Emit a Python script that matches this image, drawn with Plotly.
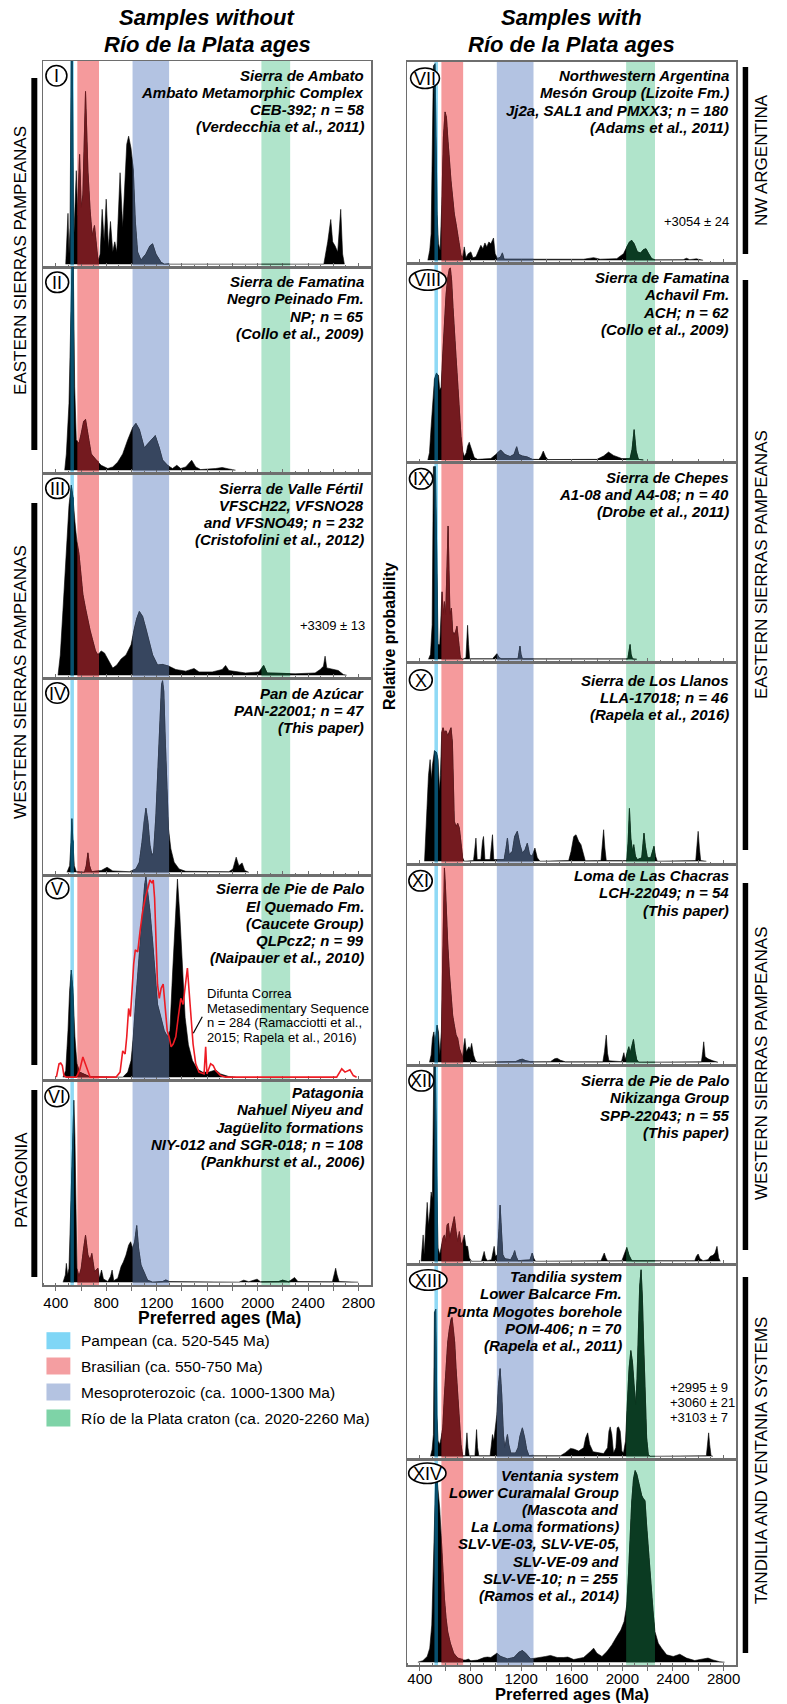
import plotly.graph_objects as go

W, H = 787, 1704
FONT = "Liberation Sans, Arial, Helvetica, sans-serif"

# ---------------- data ----------------
band_names = ["Pampean (ca. 520-545 Ma)", "Brasilian (ca. 550-750 Ma)",
              "Mesoproterozoic (ca. 1000-1300 Ma)", "Río de la Plata craton (ca. 2020-2260 Ma)"]
band_lo = [515, 570, 1008, 2030]
band_hi = [543, 742, 1298, 2258]

tick_values = [400, 600, 800, 1000, 1200, 1400, 1600, 1800, 2000, 2200, 2400, 2600, 2800]
tick_labels = ["400", "", "800", "", "1200", "", "1600", "", "2000", "", "2400", "", "2800"]

# (age in Ma, relative probability)
panel_I = [(478,0),(488,0.11),(496,0.25),(504,0.05),(512,0.18),(522,1.02),(530,1.02),(541,0.11),(551,0.29),
           (562,0.46),(572,0.24),(588,0.54),(601,0.28),(614,0.34),(635,0.85),(654,0.46),(672,0.26),(688,0.14),
           (706,0.19),(720,0.11),(735,0.01),(751,0.05),(767,0.27),(783,0.11),(799,0.32),(817,0.08),(833,0.21),
           (851,0.06),(867,0.11),(883,0.06),(909,0.45),(930,0.18),(943,0.34),(962,0.59),(977,0.63),(996,0.57),
           (1014,0.46),(1030,0.21),(1048,0.06),(1075,0.02),(1114,0.05),(1146,0.09),(1167,0.10),(1193,0.05),
           (1233,0.01),(1259,0),(2525,0),(2535,0.03),(2556,0.11),(2580,0.22),(2595,0.11),(2614,0.09),
           (2635,0.06),(2659,0.27),(2674,0.05),(2688,0)]
panel_II = [(470,0),(483,0.08),(504,0.33),(520,0.9),(528,1.02),(538,1.02),(549,0.41),(562,0.15),(583,0.13),
            (601,0.18),(620,0.24),(635,0.25),(654,0.18),(680,0.08),(720,0.05),(759,0.024),(812,0.008),
            (851,0.016),(891,0.04),(930,0.08),(970,0.15),(1009,0.21),(1035,0.23),(1062,0.2),(1101,0.11),
            (1141,0.14),(1188,0.17),(1220,0.11),(1246,0.05),(1285,0.024),(1325,0.008),(1359,0.024),
            (1390,0.008),(1430,0.016),(1477,0.049),(1509,0.016),(1548,0.003),(1667,0.008),(1719,0.013),
            (1772,0.006),(1825,0)]
panel_III = [(417,0),(435,0.1),(456,0.32),(483,0.6),(504,0.84),(522,0.94),(535,0.88),(551,0.76),(567,0.66),
             (583,0.6),(601,0.5),(614,0.4),(635,0.33),(654,0.27),(672,0.22),(693,0.17),(714,0.12),(733,0.1),
             (759,0.12),(785,0.11),(812,0.08),(851,0.035),(883,0.05),(917,0.08),(956,0.1),(996,0.15),
             (1022,0.23),(1041,0.28),(1062,0.315),(1088,0.29),(1114,0.23),(1141,0.17),(1167,0.1),(1206,0.05),
             (1246,0.053),(1298,0.044),(1351,0.028),(1430,0.02),(1496,0.033),(1535,0.016),(1640,0.016),
             (1719,0.028),(1746,0.048),(1772,0.023),(1904,0.011),(2009,0.016),(2048,0.048),(2075,0.011),
             (2298,0.007),(2456,0.011),(2496,0.028),(2522,0.044),(2535,0.094),(2548,0.036),(2574,0.033),
             (2601,0.028),(2640,0.023),(2680,0.003),(2706,0)]
panel_IV = [(488,0),(509,0.034),(520,0.155),(527,0.276),(535,0.155),(546,0.034),(562,0.003),(627,0),
            (641,0.034),(654,0.1),(667,0.034),(683,0.003),(759,0.009),(806,0.026),(851,0.007),(983,0.003),
            (1035,0.017),(1062,0.052),(1083,0.155),(1098,0.26),(1114,0.33),(1130,0.26),(1146,0.14),
            (1162,0.086),(1175,0.103),(1193,0.29),(1209,0.53),(1225,0.81),(1238,0.966),(1246,0.986),
            (1256,0.93),(1267,0.69),(1280,0.43),(1293,0.224),(1312,0.12),(1338,0.052),(1377,0.017),
            (1430,0.005),(1772,0.003),(1804,0.017),(1830,0.078),(1851,0.034),(1877,0.048),(1898,0.009),(1930,0)]
panel_V = [(456,0),(478,0.033),(496,0.23),(509,0.43),(522,0.53),(535,0.43),(551,0.2),(567,0.066),(588,0.025),
           (627,0.013),(667,0.003),(930,0),(970,0.025),(996,0.082),(1014,0.2),(1035,0.39),(1062,0.62),
           (1088,0.84),(1104,0.95),(1114,0.99),(1127,0.93),(1146,0.82),(1167,0.67),(1188,0.475),(1206,0.36),
           (1233,0.295),(1259,0.23),(1285,0.2),(1304,0.23),(1325,0.51),(1346,0.8),(1364,0.98),(1383,0.8),
           (1404,0.51),(1425,0.295),(1451,0.16),(1483,0.082),(1522,0.04),(1562,0.025),(1614,0.025),
           (1667,0.036),(1706,0.016),(1772,0.003),(1825,0)]
difunta_correa = [(404,0),(425,0.066),(438,0.07),(451,0.057),(464,0.008),(483,0),(562,0),(588,0.033),(614,0.1),
                  (635,0.066),(654,0.025),(672,0),(877,0),(909,0.025),(930,0.13),(949,0.115),(962,0.2),
                  (977,0.34),(991,0.3),(1004,0.43),(1017,0.56),(1030,0.63),(1049,0.62),(1067,0.72),(1088,0.82),
                  (1109,0.885),(1130,0.93),(1146,0.975),(1162,0.96),(1172,0.975),(1183,0.885),(1193,0.655),
                  (1206,0.46),(1220,0.39),(1235,0.44),(1251,0.46),(1267,0.36),(1283,0.23),(1298,0.2),
                  (1314,0.15),(1330,0.164),(1351,0.2),(1370,0.295),(1391,0.39),(1409,0.36),(1430,0.46),
                  (1443,0.54),(1456,0.43),(1472,0.31),(1488,0.164),(1509,0.066),(1535,0.025),(1575,0.016),
                  (1588,0.15),(1598,0.016),(1627,0.066),(1648,0.057),(1667,0.033),(1706,0.008),(1746,0),
                  (2627,0),(2667,0.041),(2693,0.025),(2732,0.036),(2759,0.008),(2785,0)]
panel_VI = [(457,0),(475,0.036),(483,0.093),(493,0.036),(504,0.069),(514,0.31),(525,0.56),(535,0.8),(543,0.9),
            (551,0.72),(559,0.31),(567,0.069),(583,0.028),(601,0.069),(620,0.167),(635,0.232),(654,0.134),
            (672,0.11),(685,0.142),(706,0.052),(733,0.069),(746,0.02),(762,0.06),(777,0.016),(812,0.003),
            (833,0.028),(846,0.06),(859,0.007),(891,0.02),(917,0.077),(935,0.1),(956,0.134),(977,0.183),
            (993,0.2),(1009,0.167),(1025,0.2),(1041,0.28),(1056,0.167),(1075,0.085),(1101,0.044),(1127,0.01),
            (1167,0),(1246,0.003),(1272,0.011),(1298,0.003),(1851,0),(1890,0.01),(1930,0.002),(1996,0.015),
            (2022,0.002),(2167,0.003),(2198,0.01),(2246,0.002),(2293,0.023),(2319,0.003),(2593,0.002),
            (2609,0.044),(2619,0.069),(2630,0.036),(2646,0.003),(2798,0)]
panel_VII = [(463,0),(478,0.05),(489,0.133),(499,0.53),(507,0.98),(520,0.99),(528,0.62),(536,0.23),(547,0.083),
             (560,0.05),(573,0.28),(586,0.62),(599,0.747),(610,0.72),(620,0.62),(633,0.5),(646,0.4),
             (659,0.317),(672,0.233),(686,0.183),(699,0.133),(712,0.067),(725,0.025),(738,0.013),(751,0.067),
             (764,0.013),(782,0.033),(803,0.042),(819,0.013),(843,0.017),(869,0.05),(882,0.075),(898,0.058),
             (914,0.087),(929,0.067),(945,0.092),(961,0.083),(982,0.112),(995,0.033),(1013,0.008),
             (1039,0.017),(1052,0.037),(1065,0.005),(1406,0.003),(1694,0.005),(1773,0.013),(1825,0.005),
             (1956,0.008),(2009,0.033),(2035,0.067),(2056,0.092),(2074,0.1),(2093,0.083),(2119,0.042),
             (2145,0.037),(2166,0.053),(2187,0.058),(2208,0.033),(2232,0.008),(2258,0.002),(2481,0.003),
             (2507,0.01),(2533,0.003),(2585,0.007),(2612,0.002),(2638,0)]
panel_VIII = [(463,0),(476,0.037),(489,0.17),(502,0.29),(515,0.41),(531,0.44),(547,0.43),(557,0.355),
              (568,0.37),(581,0.54),(594,0.707),(607,0.84),(620,0.925),(633,0.97),(641,0.975),(651,0.91),
              (662,0.774),(672,0.64),(686,0.52),(699,0.39),(712,0.24),(725,0.12),(738,0.045),(751,0.017),
              (767,0.037),(777,0.07),(790,0.09),(809,0.054),(830,0.012),(856,0.003),(961,0.007),(1000,0.028),
              (1039,0.05),(1071,0.028),(1113,0.017),(1144,0.028),(1165,0.067),(1181,0.028),(1210,0.02),
              (1249,0.015),(1288,0.003),(1341,0.003),(1359,0.02),(1375,0.045),(1393,0.017),(1411,0.002),
              (1799,0.003),(1852,0.02),(1891,0.04),(1930,0.023),(1996,0.007),(2061,0.007),(2077,0.054),
              (2093,0.154),(2109,0.045),(2127,0.003),(2166,0)]
panel_IX = [(468,0),(484,0.025),(497,0.176),(507,0.98),(523,0.98),(534,0.343),(544,0.075),(557,0.075),
            (568,0.31),(575,0.343),(586,0.226),(594,0.293),(604,0.226),(615,0.477),(623,0.678),(630,0.46),
            (638,0.226),(649,0.26),(659,0.142),(670,0.126),(683,0.142),(693,0.168),(706,0.075),(720,0.008),
            (738,0),(764,0.008),(772,0.109),(777,0.173),(785,0.075),(793,0.003),(974,0.003),(992,0.017),
            (1008,0.028),(1026,0.008),(1045,0.002),(1176,0.003),(1183,0.034),(1191,0.067),(1199,0.025),
            (1210,0.002),(2043,0.002),(2053,0.034),(2061,0.075),(2069,0.025),(2080,0.002),(2114,0)]
panel_X = [(437,0),(452,0.18),(468,0.43),(481,0.51),(492,0.41),(499,0.48),(515,0.555),(531,0.547),(544,0.51),
           (555,0.35),(562,0.43),(573,0.647),(583,0.67),(594,0.647),(607,0.655),(620,0.63),(633,0.647),
           (646,0.67),(657,0.597),(665,0.35),(672,0.2),(686,0.174),(699,0.19),(712,0.166),(725,0.1),
           (738,0.017),(751,0),(824,0.003),(835,0.066),(843,0.116),(853,0.008),(882,0.008),(895,0.1),
           (903,0.124),(914,0.008),(955,0.008),(966,0.083),(974,0.133),(984,0.008),(1066,0.008),(1081,0.066),
           (1092,0.116),(1105,0.033),(1131,0.05),(1149,0.124),(1170,0.15),(1191,0.083),(1210,0.041),
           (1231,0.058),(1249,0.09),(1267,0.033),(1288,0.025),(1309,0.066),(1328,0.017),(1349,0),
           (1576,0.003),(1595,0.05),(1616,0.124),(1634,0.133),(1655,0.1),(1673,0.083),(1694,0.025),
           (1707,0.002),(1831,0.003),(1841,0.066),(1852,0.158),(1862,0.066),(1873,0.003),(2035,0.003),
           (2046,0.1),(2056,0.265),(2067,0.116),(2080,0.05),(2090,0.083),(2103,0.025),(2119,0.008),
           (2153,0.017),(2161,0.083),(2171,0.141),(2182,0.075),(2198,0.017),(2224,0.017),(2239,0.058),
           (2250,0.075),(2263,0.025),(2276,0),(2580,0.003),(2591,0.083),(2599,0.15),(2609,0.066),
           (2619,0.003),(2664,0)]
panel_XI = [(476,0),(489,0.037),(499,0.12),(510,0.153),(520,0.095),(536,0.187),(547,0.153),(557,0.037),
            (570,0.153),(581,0.6),(589,0.92),(594,0.98),(602,0.887),(610,0.737),(620,0.6),(633,0.453),
            (646,0.32),(659,0.237),(672,0.187),(686,0.137),(699,0.12),(712,0.07),(725,0.045),(738,0.02),
            (748,0.087),(756,0.12),(767,0.053),(777,0.07),(788,0.078),(798,0.062),(809,0.095),(824,0.037),
            (840,0.007),(856,0),(1157,0.003),(1191,0.013),(1210,0.015),(1236,0.008),(1275,0.002),
            (1432,0.003),(1464,0.017),(1485,0.02),(1511,0.01),(1550,0.002),(1846,0.002),(1859,0.053),
            (1873,0.137),(1883,0.045),(1894,0.007),(1993,0.003),(2004,0.037),(2012,0.048),(2022,0.012),
            (2035,0.037),(2051,0.078),(2061,0.045),(2074,0.087),(2088,0.115),(2101,0.053),(2114,0.012),
            (2129,0),(2625,0.002),(2635,0.053),(2643,0.103),(2654,0.028),(2677,0.017),(2716,0.007),(2756,0)]
panel_XII = [(410,0),(418,0.084),(426,0.134),(434,0.034),(444,0.151),(458,0.3),(468,0.185),(479,0.252),
             (489,0.353),(499,0.32),(510,0.99),(523,0.99),(534,0.353),(544,0.067),(557,0.034),(570,0.084),
             (583,0.118),(594,0.134),(604,0.1),(615,0.185),(625,0.193),(636,0.118),(646,0.151),(659,0.2),
             (672,0.227),(686,0.151),(699,0.1),(712,0.151),(725,0.084),(738,0.1),(751,0.134),(764,0.076),
             (777,0.076),(790,0.017),(809,0),(887,0),(898,0.025),(908,0.05),(919,0.017),(934,0.003),
             (966,0.008),(979,0.05),(987,0.076),(997,0.025),(1013,0.034),(1024,0.151),(1034,0.286),
             (1045,0.151),(1055,0.034),(1071,0.013),(1118,0.008),(1139,0.034),(1149,0.054),(1160,0.025),
             (1176,0.003),(1270,0.007),(1280,0.03),(1288,0.042),(1299,0.017),(1314,0),(1831,0.003),
             (1846,0.025),(1857,0.042),(1870,0.017),(1883,0.002),(1996,0.003),(2017,0.034),(2035,0.07),
             (2053,0.03),(2074,0.003),(2572,0.003),(2585,0.025),(2599,0.037),(2614,0.013),(2638,0.003),
             (2677,0.008),(2695,0.025),(2716,0.03),(2732,0.042),(2748,0.076),(2761,0.017),(2774,0)]
panel_XIII = [(484,0),(497,0.036),(507,0.113),(515,0.748),(526,0.765),(534,0.216),(544,0.079),(557,0.062),
              (568,0.096),(581,0.148),(594,0.319),(607,0.456),(620,0.593),(633,0.662),(646,0.714),(654,0.722),
              (665,0.662),(675,0.593),(686,0.456),(699,0.319),(712,0.182),(725,0.062),(738,0.003),(759,0.003),
              (767,0.079),(772,0.122),(780,0.045),(790,0.003),(835,0.003),(843,0.096),(848,0.139),(856,0.045),
              (866,0.003),(955,0.003),(966,0.079),(974,0.113),(984,0.079),(997,0.165),(1008,0.216),
              (1021,0.37),(1034,0.456),(1047,0.319),(1060,0.113),(1071,0.045),(1081,0.079),(1092,0.113),
              (1102,0.062),(1118,0.017),(1157,0.017),(1176,0.045),(1191,0.105),(1210,0.148),(1228,0.096),
              (1244,0.036),(1262,0.003),(1511,0.003),(1550,0.019),(1590,0.041),(1616,0.038),(1655,0.027),
              (1694,0.045),(1710,0.096),(1726,0.122),(1742,0.062),(1768,0.024),(1812,0.017),(1852,0.014),
              (1883,0.045),(1894,0.13),(1904,0.153),(1917,0.113),(1930,0.017),(1949,0.045),(1959,0.148),
              (1970,0.153),(1983,0.13),(1996,0.027),(2009,0.017),(2025,0.079),(2040,0.285),(2053,0.456),
              (2067,0.55),(2080,0.49),(2093,0.37),(2106,0.268),(2116,0.405),(2127,0.662),(2137,0.885),
              (2148,0.97),(2158,0.834),(2169,0.576),(2179,0.319),(2192,0.096),(2205,0.01),(2219,0),
              (2664,0.003),(2675,0.079),(2682,0.122),(2690,0.062),(2701,0.003),(2716,0)]
panel_XIV = [(384,0),(423,0.007),(458,0.028),(478,0.069),(494,0.183),(505,0.428),(515,0.755),(526,0.926),
             (536,0.902),(547,0.837),(557,0.755),(568,0.624),(581,0.46),(594,0.314),(607,0.216),(620,0.15),
             (641,0.093),(667,0.044),(699,0.02),(738,0.01),(764,0.011),(783,0.015),(803,0.007),(856,0.01),
             (908,0.023),(934,0.025),(961,0.023),(987,0.036),(1008,0.044),(1039,0.028),(1092,0.016),
             (1144,0.023),(1183,0.049),(1210,0.057),(1236,0.044),(1275,0.016),(1328,0.02),(1393,0.028),
             (1432,0.033),(1485,0.023),(1537,0.023),(1569,0.025),(1616,0.013),(1694,0.023),(1747,0.052),
             (1773,0.069),(1799,0.044),(1839,0.028),(1878,0.052),(1917,0.085),(1956,0.126),(1988,0.158),
             (2014,0.2),(2035,0.281),(2048,0.428),(2061,0.624),(2074,0.788),(2088,0.902),(2101,0.943),
             (2114,0.926),(2127,0.894),(2140,0.861),(2153,0.82),(2166,0.804),(2179,0.796),(2192,0.673),
             (2205,0.559),(2219,0.461),(2232,0.346),(2245,0.232),(2258,0.15),(2284,0.093),(2310,0.069),
             (2350,0.036),(2402,0.028),(2454,0.039),(2507,0.02),(2572,0.008),(2638,0.016),(2677,0.02),
             (2716,0.011),(2769,0.002),(2808,0)]

titles_left = ["Samples without", "Río de la Plata ages"]
titles_right = ["Samples with", "Río de la Plata ages"]
text_I = ["Sierra de Ambato", "Ambato Metamorphic Complex", "CEB-392; n = 58", "(Verdecchia et al., 2011)"]
text_II = ["Sierra de Famatina", "Negro Peinado Fm.", "NP; n = 65", "(Collo et al., 2009)"]
text_III = ["Sierra de Valle Fértil", "VFSCH22, VFSNO28", "and VFSNO49; n = 232", "(Cristofolini et al., 2012)"]
text_IV = ["Pan de Azúcar", "PAN-22001; n = 47", "(This paper)"]
text_V = ["Sierra de Pie de Palo", "El Quemado Fm.", "(Caucete Group)", "QLPcz2; n = 99", "(Naipauer et al., 2010)"]
text_VI = ["Patagonia", "Nahuel Niyeu and", "Jagüelito formations", "NIY-012 and SGR-018; n = 108",
           "(Pankhurst et al., 2006)"]
text_VII = ["Northwestern Argentina", "Mesón Group (Lizoite Fm.)", "Jj2a, SAL1 and PMXX3; n = 180",
            "(Adams et al., 2011)"]
text_VIII = ["Sierra de Famatina", "Achavil Fm.", "ACH; n = 62", "(Collo et al., 2009)"]
text_IX = ["Sierra de Chepes", "A1-08 and A4-08; n = 40", "(Drobe et al., 2011)"]
text_X = ["Sierra de Los Llanos", "LLA-17018; n = 46", "(Rapela et al., 2016)"]
text_XI = ["Loma de Las Chacras", "LCH-22049; n = 54", "(This paper)"]
text_XII = ["Sierra de Pie de Palo", "Nikizanga Group", "SPP-22043; n = 55", "(This paper)"]
text_XIII = ["Tandilia system", "Lower Balcarce Fm.", "Punta Mogotes borehole", "POM-406; n = 70",
             "(Rapela et al., 2011)"]
text_XIV = ["Ventania system", "Lower Curamalal Group", "(Mascota and", "La Loma formations)",
            "SLV-VE-03, SLV-VE-05,", "SLV-VE-09 and", "SLV-VE-10; n = 255", "(Ramos et al., 2014)"]
note_III = ["+3309 ± 13"]
note_VII = ["+3054 ± 24"]
note_XIII = ["+2995 ± 9", "+3060 ± 21", "+3103 ± 7"]
difunta_label = ["Difunta Correa", "Metasedimentary Sequence", "n = 284 (Ramacciotti et al.,",
                 "2015; Rapela et al., 2016)"]
side_labels_left = ["EASTERN SIERRAS PAMPEANAS", "WESTERN SIERRAS PAMPEANAS", "PATAGONIA"]
side_labels_right = ["NW ARGENTINA", "EASTERN SIERRAS PAMPEANAS", "WESTERN SIERRAS PAMPEANAS",
                     "TANDILIA AND VENTANIA SYSTEMS"]
x_title = "Preferred ages (Ma)"
y_title = "Relative probability"

# ---------------- styles / layout geometry ----------------
band_colors = ["#8fd9f5", "#f59a9c", "#b3c3e2", "#b0e4cb"]
legend_colors = ["#7fd6f6", "#f49ea1", "#b4c3e1", "#7ed3a7"]
fill_colors = ["#07506f", "#741a1f", "#37465f", "#0b3b22"]
BORDER = "#6e6e6e"

col_x = [(43.5, 373.0), (409.3, 740.0)]
edges = [[61, 267, 473, 678, 875, 1080, 1285],
         [61.7, 263, 462.7, 662, 864, 1065, 1264, 1459, 1665]]
X0, X1 = 300, 2900
YR = [-0.014, 1.0]

panels = [
    dict(num="I", col=0, row=0, data=panel_I, text=text_I, ty=75.0, tx=367, ecx=56.7, ecy=75.7, ew=21),
    dict(num="II", col=0, row=1, data=panel_II, text=text_II, ty=281.7, tx=367, ecx=57.5, ecy=282.3, ew=23),
    dict(num="III", col=0, row=2, data=panel_III, text=text_III, ty=488.3, tx=367, ecx=57.7, ecy=488.3, ew=23.5),
    dict(num="IV", col=0, row=3, data=panel_IV, text=text_IV, ty=693.3, tx=367, ecx=57.5, ecy=693.0, ew=23),
    dict(num="V", col=0, row=4, data=panel_V, text=text_V, ty=889.0, tx=367, ecx=57.7, ecy=888.5, ew=23),
    dict(num="VI", col=0, row=5, data=panel_VI, text=text_VI, ty=1092.7, tx=366.5, ecx=57.2, ecy=1096.5, ew=24),
    dict(num="VII", col=1, row=0, data=panel_VII, text=text_VII, ty=75.7, tx=734, ecx=427.2, ecy=78.3, ew=29),
    dict(num="VIII", col=1, row=1, data=panel_VIII, text=text_VIII, ty=277.7, tx=734, ecx=430.0, ecy=280.0, ew=37),
    dict(num="IX", col=1, row=2, data=panel_IX, text=text_IX, ty=477.3, tx=734, ecx=423.3, ecy=478.8, ew=23.5),
    dict(num="X", col=1, row=3, data=panel_X, text=text_X, ty=680.0, tx=734, ecx=423.0, ecy=680.0, ew=23),
    dict(num="XI", col=1, row=4, data=panel_XI, text=text_XI, ty=875.7, tx=734, ecx=422.7, ecy=880.8, ew=23.5),
    dict(num="XII", col=1, row=5, data=panel_XII, text=text_XII, ty=1080.7, tx=734, ecx=423.5, ecy=1080.8, ew=25),
    dict(num="XIII", col=1, row=6, data=panel_XIII, text=text_XIII, ty=1276.7, tx=626.5, ecx=430.5, ecy=1280.0, ew=37.5),
    dict(num="XIV", col=1, row=7, data=panel_XIV, text=text_XIV, ty=1475.0, tx=623, ecx=429.5, ecy=1473.3, ew=37.5),
]
LINE_GAP = 17.2


def xid(k):
    return "x" if k == 1 else f"x{k}"


def yid(k):
    return "y" if k == 1 else f"y{k}"


def xkey(k):
    return "xaxis" if k == 1 else f"xaxis{k}"


def ykey(k):
    return "yaxis" if k == 1 else f"yaxis{k}"


fig = go.Figure()
layout_axes = {}
shapes = []
annotations = []


def ann(text, x, y, size, xanchor="center", yanchor="middle", angle=0, color="black"):
    annotations.append(dict(text=text, x=x / W, y=1 - y / H, xref="paper", yref="paper", showarrow=False,
                            xanchor=xanchor, yanchor=yanchor, textangle=angle, borderpad=0,
                            font=dict(family=FONT, size=size, color=color)))


def rect(x0, y0, x1, y1, color, layer="above"):
    shapes.append(dict(type="rect", xref="paper", yref="paper", x0=x0 / W, x1=x1 / W,
                       y0=1 - y1 / H, y1=1 - y0 / H, fillcolor=color, line=dict(width=0), layer=layer))


scale = [(c[1] - c[0]) / (X1 - X0) for c in col_x]

# band-clip axes (one per band and column)
band_axis = {}
n_ax = 15
for c in range(2):
    for j in range(4):
        bx0 = col_x[c][0] + (band_lo[j] - X0) * scale[c]
        bx1 = col_x[c][0] + (band_hi[j] - X0) * scale[c]
        layout_axes[xkey(n_ax)] = dict(domain=[bx0 / W, bx1 / W], range=[band_lo[j], band_hi[j]],
                                       visible=False, anchor="free", position=0, fixedrange=True)
        band_axis[(c, j)] = n_ax
        n_ax += 1
red_axis = n_ax
layout_axes[xkey(red_axis)] = dict(domain=[col_x[0][0] / W, col_x[0][1] / W], range=[X0, X1],
                                   visible=False, anchor="free", position=0, fixedrange=True)

for k, p in enumerate(panels, 1):
    c, r = p["col"], p["row"]
    top, bot = edges[c][r], edges[c][r + 1]
    bottom_panel = (r + 2 == len(edges[c]))
    xa = dict(domain=[col_x[c][0] / W, col_x[c][1] / W], range=[X0, X1], anchor=yid(k),
              showline=True, mirror=True, linecolor=BORDER, linewidth=1.5, showgrid=False, zeroline=False,
              tickmode="array", tickvals=tick_values, ticklen=4, tickwidth=1, tickcolor=BORDER, fixedrange=True,
              minor=dict(ticks="inside", dtick=100, tick0=0, ticklen=2, tickcolor=BORDER, showgrid=False))
    if bottom_panel:
        xa.update(ticks="outside", ticktext=tick_labels, showticklabels=True,
                  tickfont=dict(family=FONT, size=15, color="black"),
                  ticklabelstandoff=(-1 if c == 0 else -5))
    else:
        xa.update(ticks="inside", showticklabels=False)
    layout_axes[xkey(k)] = xa
    layout_axes[ykey(k)] = dict(domain=[1 - bot / H, 1 - top / H], range=YR, anchor=xid(k),
                                showline=True, mirror=True, linecolor=BORDER, linewidth=1.5,
                                showgrid=False, zeroline=False, ticks="", showticklabels=False,
                                fixedrange=True)
    # age bands
    for j in range(4):
        shapes.append(dict(type="rect", xref=xid(k), yref=f"{yid(k)} domain", x0=band_lo[j], x1=band_hi[j],
                           y0=0, y1=1, fillcolor=band_colors[j], line=dict(width=0), layer="below"))
    ages = [q[0] for q in p["data"]]
    dens = [q[1] for q in p["data"]]
    fig.add_trace(go.Scatter(x=ages, y=dens, mode="lines", fill="tozeroy", fillcolor="black",
                             line=dict(color="black", width=0.6), xaxis=xid(k), yaxis=yid(k),
                             hoverinfo="skip", showlegend=False))
    for j in range(4):
        fig.add_trace(go.Scatter(x=ages, y=dens, mode="lines", fill="tozeroy", fillcolor=fill_colors[j],
                                 line=dict(color=fill_colors[j], width=0.6),
                                 xaxis=xid(band_axis[(c, j)]), yaxis=yid(k),
                                 hoverinfo="skip", showlegend=False))
    # panel text
    for i, line in enumerate(p["text"]):
        ann(f"<b><i>{line}</i></b>", p["tx"], p["ty"] + i * LINE_GAP, 15, xanchor="right")
    # numeral ellipse
    eh = 20.5
    shapes.append(dict(type="circle", xref="paper", yref="paper",
                       x0=(p["ecx"] - p["ew"] / 2) / W, x1=(p["ecx"] + p["ew"] / 2) / W,
                       y0=1 - (p["ecy"] + eh / 2) / H, y1=1 - (p["ecy"] - eh / 2) / H,
                       line=dict(color="black", width=1.6), fillcolor="white", layer="above"))
    ann(p["num"], p["ecx"], p["ecy"] + 0.5, 18)

# Difunta Correa red curve on panel V
fig.add_trace(go.Scatter(x=[q[0] for q in difunta_correa], y=[q[1] for q in difunta_correa], mode="lines",
                         line=dict(color="#ee1c24", width=1.6), xaxis=xid(red_axis), yaxis=yid(5),
                         hoverinfo="skip", showlegend=False))
for i, line in enumerate(difunta_label):
    ann(line, 206.7, 993.3 + i * 14.8, 13, xanchor="left")
shapes.append(dict(type="line", xref="paper", yref="paper", x0=203.3 / W, y0=1 - 1016.7 / H,
                   x1=194.3 / W, y1=1 - 1033.3 / H, line=dict(color="black", width=1.2), layer="above"))

# age notes
ann(note_III[0], 368, 625, 13, xanchor="right")
ann(note_VII[0], 734, 222, 13, xanchor="right")
for i, line in enumerate(note_XIII):
    ann(line, 672.7, 1387 + i * 15, 13, xanchor="left")

# column titles
for i, line in enumerate(titles_left):
    ann(f"<b><i>{line}</i></b>", 208.2, 18 + i * 26, 22)
for i, line in enumerate(titles_right):
    ann(f"<b><i>{line}</i></b>", 574.6, 18 + i * 26, 22)

# axis titles
ann(f"<b>{x_title}</b>", 221, 1318, 17.5)
ann(f"<b>{x_title}</b>", 574.6, 1693.5, 16.5)
ann(f"<b>{y_title}</b>", 392, 636, 16, angle=-90)

# side group bars and labels
left_bars = [(78, 450), (503, 1065), (1090, 1277)]
left_label_y = [260, 682, 1180]
for (b0, b1), ly, lab in zip(left_bars, left_label_y, side_labels_left):
    rect(31.5, b0, 37.5, b1, "black")
    ann(lab, 21, ly, 17, angle=-90)
right_bars = [(67, 254), (280, 850), (883, 1250), (1277, 1653)]
right_label_y = [160, 565, 1063, 1460]
for (b0, b1), ly, lab in zip(right_bars, right_label_y, side_labels_right):
    rect(746.5, b0, 752, b1, "black")
    ann(lab, 765, ly, 17, angle=-90)

# legend
legend_y = [1340.7, 1366, 1392, 1418]
for name, colr, ly in zip(band_names, legend_colors, legend_y):
    rect(46.7, ly - 8.5, 70.7, ly + 8.5, colr)
    ann(name, 80.7, ly, 15.5, xanchor="left")

fig.update_layout(width=W, height=H, autosize=False, margin=dict(l=0, r=0, t=0, b=0, pad=0),
                  paper_bgcolor="white", plot_bgcolor="rgba(0,0,0,0)", showlegend=False,
                  shapes=shapes, annotations=annotations, **layout_axes)

fig.write_html("out.html", config={"displayModeBar": False, "staticPlot": True},
               post_script="document.body.style.margin='0';document.body.style.overflow='hidden';")
